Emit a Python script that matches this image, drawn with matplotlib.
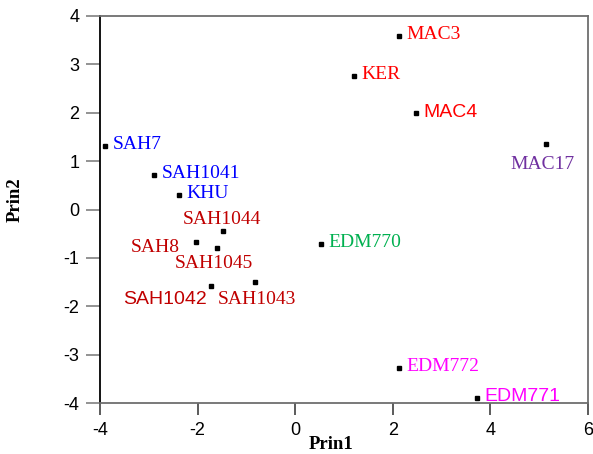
import matplotlib
matplotlib.use('Agg')
import matplotlib.pyplot as plt

# scores on the first two principal components
names = ['MAC3', 'KER', 'MAC4', 'MAC17', 'SAH7', 'SAH1041', 'KHU', 'SAH1044',
         'SAH8', 'SAH1045', 'EDM770', 'SAH1042', 'SAH1043', 'EDM772', 'EDM771']
prin1 = [2.12, 1.20, 2.47, 5.13, -3.89, -2.89, -2.39, -1.47,
         -2.04, -1.61, 0.52, -1.72, -0.83, 2.12, 3.72]
prin2 = [3.58, 2.76, 1.99, 1.35, 1.32, 0.72, 0.30, -0.45,
         -0.68, -0.80, -0.71, -1.58, -1.50, -3.27, -3.89]
groups = ['mac', 'mac', 'mac', 'mac17', 'sah_b', 'sah_b', 'sah_b', 'sah_r',
          'sah_r', 'sah_r', 'edm0', 'sah_r', 'sah_r', 'edm', 'edm']
xticks = [-4, -2, 0, 2, 4, 6]
yticks = [-4, -3, -2, -1, 0, 1, 2, 3, 4]

colors = {'mac': '#ff0000', 'mac17': '#7030a0', 'sah_b': '#0000ff',
          'sah_r': '#c00000', 'edm0': '#00b050', 'edm': '#ff00ff'}
sans_labels = ['MAC4', 'SAH1042', 'EDM771']
# label placement in pixels relative to the point
offsets = {'SAH1044': (-2, 7, 'center'), 'SAH8': (-16, -10, 'right'),
           'SAH1045': (-3, -20, 'center'), 'SAH1042': (-4, -18, 'right'),
           'SAH1043': (2, -22, 'center'), 'MAC17': (-3, -25, 'center'),
           'MAC4': (8, -4, 'left'), 'SAH7': (7, -3, 'left')}

fig = plt.figure(figsize=(5.93, 4.54), dpi=100)
ax = fig.add_axes([100/593, 1 - 403/454, 488/593, 387/454])

ax.plot(prin1, prin2, 's', color='black', markersize=3.2, linestyle='none')

for i in range(len(names)):
    dx, dy, ha = offsets.get(names[i], (8, -3, 'left'))
    if names[i] in sans_labels:
        fam, fs = 'Liberation Sans', 14
    else:
        fam, fs = 'Liberation Serif', 14
    ax.annotate(names[i], (prin1[i], prin2[i]), xytext=(dx, dy),
                textcoords='offset pixels', ha=ha, va='baseline',
                color=colors[groups[i]], family=fam, fontsize=fs,
                annotation_clip=False)

ax.set_xlim(-4, 6)
ax.set_ylim(-4, 4)
ax.set_xticks(xticks)
ax.set_yticks(yticks)
ax.set_xticklabels([str(t) for t in xticks], family='Liberation Sans', fontsize=13)
ax.set_yticklabels([str(t) for t in yticks], family='Liberation Sans', fontsize=13)
ax.tick_params(axis='y', direction='out', length=10, width=1.2, color='#808080', pad=5)
ax.tick_params(axis='x', direction='out', length=8.5, width=1.2, color='#404040', pad=5)

for side in ['top', 'bottom', 'right']:
    ax.spines[side].set_color('#6e6e6e')
    ax.spines[side].set_linewidth(1.3)
ax.spines['left'].set_color('black')
ax.spines['left'].set_linewidth(1.3)

ax.set_xlabel('Prin1', family='Liberation Serif', fontweight='bold', fontsize=13.5)
ax.set_ylabel('Prin2', family='Liberation Serif', fontweight='bold', fontsize=13.5)
ax.xaxis.set_label_coords(0.473, -0.085)
ax.yaxis.set_label_coords(-0.157, 0.525)

fig.savefig('out.png', dpi=100)
